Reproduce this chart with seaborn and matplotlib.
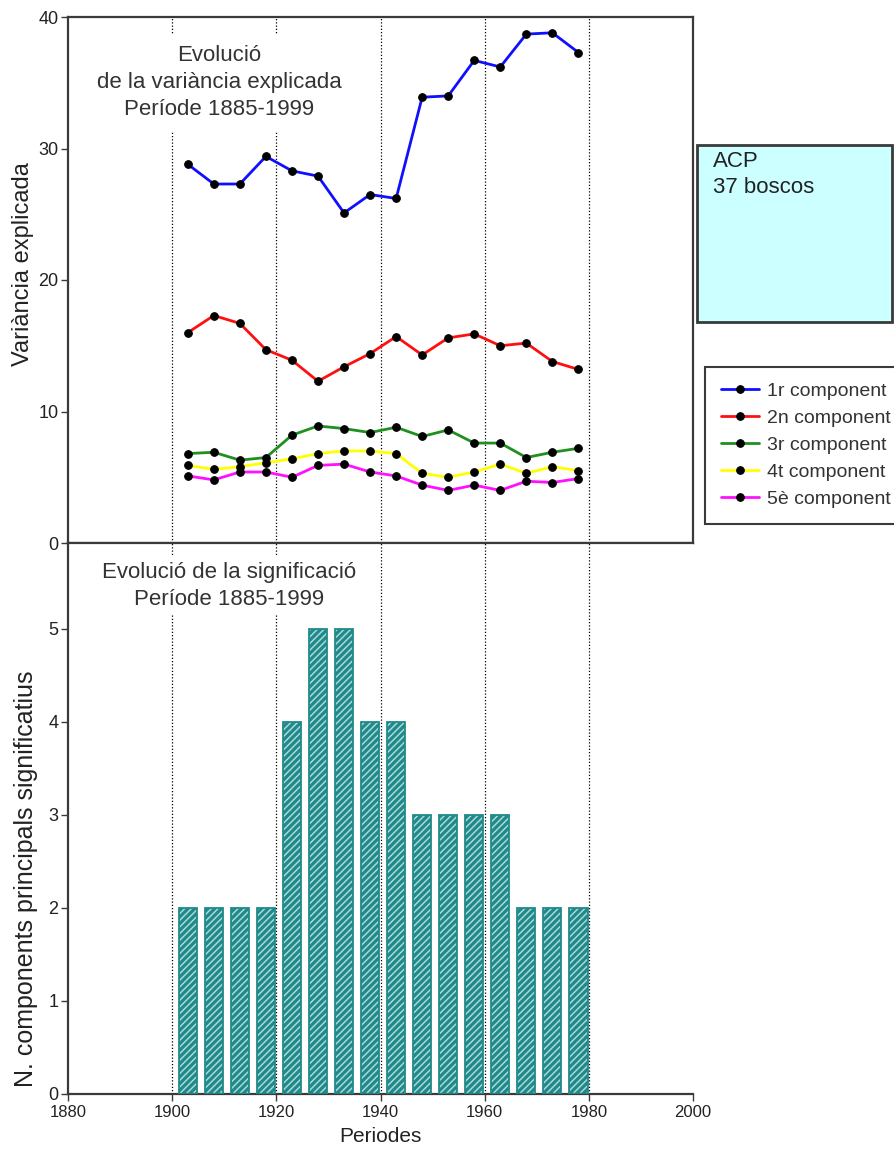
import numpy as np
import pandas as pd
import matplotlib
matplotlib.use("Agg")
import matplotlib.pyplot as plt
import seaborn as sns
from matplotlib.patches import Rectangle

# ---------------- data ----------------
years = [1903, 1908, 1913, 1918, 1923, 1928, 1933, 1938,
         1943, 1948, 1953, 1958, 1963, 1968, 1973, 1978]
comp1 = [28.8, 27.3, 27.3, 29.4, 28.3, 27.9, 25.1, 26.5,
         26.2, 33.9, 34.0, 36.7, 36.2, 38.7, 38.8, 37.3]
comp2 = [16.0, 17.3, 16.7, 14.7, 13.9, 12.3, 13.4, 14.4,
         15.7, 14.3, 15.6, 15.9, 15.0, 15.2, 13.8, 13.2]
comp3 = [6.8, 6.9, 6.3, 6.5, 8.2, 8.9, 8.7, 8.4,
         8.8, 8.1, 8.6, 7.6, 7.6, 6.5, 6.9, 7.2]
comp4 = [5.9, 5.6, 5.8, 6.1, 6.4, 6.8, 7.0, 7.0,
         6.8, 5.3, 5.0, 5.4, 6.0, 5.3, 5.8, 5.5]
comp5 = [5.1, 4.8, 5.4, 5.4, 5.0, 5.9, 6.0, 5.4,
         5.1, 4.4, 4.0, 4.4, 4.0, 4.7, 4.6, 4.9]
n_signif = [2, 2, 2, 2, 4, 5, 5, 4, 4, 3, 3, 3, 3, 2, 2, 2]

series_labels = ["1r component", "2n component", "3r component",
                 "4t component", "5è component"]
series_colors = ["#1010ff", "#ff1010", "#1f8f1f", "#ffff00", "#ff10ff"]
x_ticks = [1880, 1900, 1920, 1940, 1960, 1980, 2000]
grid_years = [1900, 1920, 1940, 1960, 1980]

# ---------------- style ----------------
sns.set_style("white")
plt.rcParams["font.family"] = ["Liberation Sans", "DejaVu Sans"]
plt.rcParams["hatch.linewidth"] = 1.1
SPINE = "#3a3a3a"

W, H = 895, 1151
fig = plt.figure(figsize=(W / 100, H / 100), dpi=100)
ax1 = fig.add_axes([68 / W, 1 - 543 / H, (693 - 68) / W, (543 - 17) / H])
ax2 = fig.add_axes([68 / W, 1 - 1094 / H, (693 - 68) / W, (1094 - 543) / H])

# ---------------- top panel ----------------
comps = [comp1, comp2, comp3, comp4, comp5]
for vals, lab, col in zip(comps, series_labels, series_colors):
    df = pd.DataFrame({"Periode": years, "Var": vals})
    sns.lineplot(data=df, x="Periode", y="Var", ax=ax1, color=col, label=lab,
                 marker="o", markersize=5.5, markerfacecolor="black",
                 markeredgecolor="black", linewidth=2.0, zorder=4)

for gx in grid_years:
    ax1.axvline(gx, color="black", linestyle=(0, (1, 1.6)), linewidth=0.9, zorder=1)

ax1.set_xlim(1880, 2000)
ax1.set_ylim(0, 40)
ax1.set_yticks([0, 10, 20, 30, 40])
ax1.set_xticks(x_ticks)
ax1.tick_params(axis="x", bottom=False, labelbottom=False)
ax1.tick_params(axis="y", left=True, direction="out", length=5, width=1,
                color=SPINE, labelsize=13, labelcolor="#222222", pad=2)
ax1.set_xlabel("")
ax1.set_ylabel("Variància explicada", fontsize=17, color="#222222")
ax1.yaxis.set_label_coords(-0.054, 0.53)
for s in ax1.spines.values():
    s.set_color(SPINE)
    s.set_linewidth(1.6)

ax1.text(1909, 35.0, "Evolució\nde la variància explicada\nPeríode 1885-1999",
         ha="center", va="center", fontsize=16, color="#333333", linespacing=1.38,
         zorder=3, bbox=dict(boxstyle="square,pad=0.5", facecolor="white",
                             edgecolor="none"))

handles, labels = ax1.get_legend_handles_labels()
if ax1.get_legend() is not None:
    ax1.get_legend().remove()

# ---------------- bottom panel ----------------
teal = "#208a8a"
hatch_col = "#aad8d8"
sns.barplot(x=years, y=n_signif, native_scale=True, width=0.7, color=teal,
            errorbar=None, ax=ax2, zorder=2)
for p in ax2.patches:
    p.set_facecolor(teal)
    p.set_hatch("/////")
    p.set_edgecolor(hatch_col)
    p.set_linewidth(0)
n_first = len(ax2.patches)
sns.barplot(x=years, y=n_signif, native_scale=True, width=0.7, color=teal,
            errorbar=None, fill=False, linewidth=1.3, ax=ax2, zorder=3)
for p in ax2.patches[n_first:]:
    p.set_edgecolor(teal)

for gx in grid_years:
    ax2.axvline(gx, color="black", linestyle=(0, (1, 1.6)), linewidth=0.9, zorder=1)

ax2.set_xlim(1880, 2000)
ax2.set_ylim(0, 5.92)
ax2.set_yticks([0, 1, 2, 3, 4, 5])
ax2.set_xticks(x_ticks)
ax2.set_xticklabels([str(t) for t in x_ticks], fontsize=12, color="#222222")
ax2.tick_params(axis="both", bottom=True, left=True, direction="out", length=5,
                width=1, color=SPINE, pad=3)
ax2.tick_params(axis="y", labelsize=13, labelcolor="#222222", pad=2)
ax2.set_xlabel("Periodes", fontsize=15, color="#222222", labelpad=5)
ax2.set_ylabel("N. components principals significatius", fontsize=18,
               color="#222222")
ax2.yaxis.set_label_coords(-0.048, 0.39)
for name, s in ax2.spines.items():
    s.set_color(SPINE)
    s.set_linewidth(1.6)
ax2.spines["right"].set_visible(False)

ax2.text(1911, 5.46, "Evolució de la significació\nPeríode 1885-1999",
         ha="center", va="center", fontsize=16, color="#333333", linespacing=1.38,
         zorder=4, bbox=dict(boxstyle="square,pad=0.2", facecolor="white",
                             edgecolor="none"))

# ---------------- side boxes ----------------
fig.add_artist(Rectangle((697 / W, 1 - 322 / H), 195 / W, 177 / H,
                         transform=fig.transFigure, facecolor="#ccffff",
                         edgecolor=SPINE, linewidth=2))
fig.text(713 / W, 1 - 151 / H, "ACP\n37 boscos", ha="left", va="top",
         fontsize=16, color="#222222", linespacing=1.3)

leg = fig.legend(handles, labels, loc="upper left",
                 bbox_to_anchor=(705 / W, 1 - 367 / H),
                 bbox_transform=fig.transFigure, borderaxespad=0,
                 frameon=True, fancybox=False, framealpha=1,
                 edgecolor=SPINE, fontsize=14, handlelength=2.0,
                 handletextpad=0.4, labelspacing=0.48, borderpad=0.8)
leg.get_frame().set_linewidth(1.5)
for t in leg.get_texts():
    t.set_color("#333333")

fig.savefig("out.png", dpi=100)
